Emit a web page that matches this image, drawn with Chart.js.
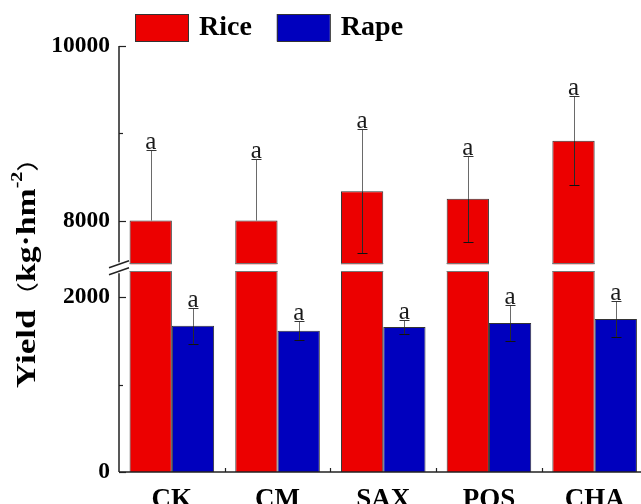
<!DOCTYPE html>
<html>
<head>
<meta charset="utf-8">
<script src="https://cdn.jsdelivr.net/npm/chart.js@4.4.1/dist/chart.umd.min.js"></script>
<style>
  html, body { margin: 0; padding: 0; background: #ffffff; overflow: hidden; }
  #wrap { position: relative; width: 650px; height: 504px; }
</style>
</head>
<body>
<div id="wrap"><canvas id="chart" width="650" height="504"></canvas></div>
<script>
// Treatments and yields (kg·hm-2), mean ± SD
const treatments   = ['CK', 'CM', 'SAX', 'POS', 'CHA'];
const riceYield    = [8000, 8000, 8335, 8250, 8915];
const riceSD       = [810, 700, 712, 494, 512];
const rapeYield    = [1675, 1617, 1661, 1706, 1754];
const rapeSD       = [206, 110, 76, 211, 205];
const riceLetters  = ['a', 'a', 'a', 'a', 'a'];
const rapeLetters  = ['a', 'a', 'a', 'a', 'a'];

// Broken y axis: 0–2300 below the break, 7500–10000 above it
const yTickValues  = [0, 1000, 2000, 8000, 9000, 10000];
const yTickLabels  = ['0', '', '2000', '8000', '', '10000'];
const BREAK_LOW  = 2300;
const BREAK_HIGH = 7500;
const BREAK_GAP  = 7;

const SERIF = '"Liberation Serif", "Times New Roman", serif';
const RED  = '#EC0000';
const BLUE = '#0000BE';

class BrokenLinearScale extends Chart.LinearScale {
  buildTicks() {
    super.buildTicks();
    return yTickValues.map(v => ({ value: v }));
  }
  _segments() {
    const h = this.bottom - this.top;
    const lowSpan = BREAK_LOW - this.min;
    const highSpan = this.max - BREAK_HIGH;
    const usable = h - BREAK_GAP;
    const lowH = usable * lowSpan / (lowSpan + highSpan);
    return { lowH, highH: usable - lowH };
  }
  getPixelForValue(v) {
    const { lowH, highH } = this._segments();
    if (v <= BREAK_LOW) return this.bottom - (v - this.min) / (BREAK_LOW - this.min) * lowH;
    if (v >= BREAK_HIGH) return this.top + (this.max - v) / (this.max - BREAK_HIGH) * highH;
    const yLow = this.bottom - lowH, yHigh = this.top + highH;
    return yLow + (v - BREAK_LOW) / (BREAK_HIGH - BREAK_LOW) * (yHigh - yLow);
  }
  getValueForPixel(p) {
    const { lowH, highH } = this._segments();
    const yLow = this.bottom - lowH, yHigh = this.top + highH;
    if (p >= yLow) return this.min + (this.bottom - p) / lowH * (BREAK_LOW - this.min);
    if (p <= yHigh) return this.max - (p - this.top) / highH * (this.max - BREAK_HIGH);
    return BREAK_LOW + (yLow - p) / (yLow - yHigh) * (BREAK_HIGH - BREAK_LOW);
  }
}
BrokenLinearScale.id = 'brokenLinear';
BrokenLinearScale.defaults = Chart.LinearScale.defaults;
Chart.register(BrokenLinearScale);

const sdByDataset = [riceSD, rapeSD];
const lettersByDataset = [riceLetters, rapeLetters];

const decorations = {
  id: 'decorations',
  afterDatasetsDraw(chart) {
    const ctx = chart.ctx;
    const y = chart.scales.y;
    const x = chart.scales.x;
    const area = chart.chartArea;
    const bandTop = y.getPixelForValue(BREAK_HIGH);
    const bandBot = y.getPixelForValue(BREAK_LOW);

    // error bars
    chart.data.datasets.forEach((ds, di) => {
      const meta = chart.getDatasetMeta(di);
      meta.data.forEach((el, i) => {
        const mean = ds.data[i], sd = sdByDataset[di][i];
        const cx = Math.round(el.x) + 0.5;
        const pMean = y.getPixelForValue(mean);
        const pTop = Math.round(y.getPixelForValue(mean + sd)) + 0.5;
        ctx.save();
        ctx.lineWidth = 1;
        ctx.strokeStyle = '#6a6a6a';
        ctx.beginPath(); ctx.moveTo(cx, pMean); ctx.lineTo(cx, pTop); ctx.stroke();
        ctx.strokeStyle = '#333';
        ctx.beginPath(); ctx.moveTo(cx - 5, pTop); ctx.lineTo(cx + 5, pTop); ctx.stroke();
        const low = mean - sd;
        const visibleLow = mean > BREAK_HIGH ? low >= BREAK_HIGH : true;
        if (visibleLow) {
          const pLow = Math.round(y.getPixelForValue(low)) + 0.5;
          ctx.strokeStyle = '#2a2a2a';
          ctx.beginPath(); ctx.moveTo(cx, pMean); ctx.lineTo(cx, pLow); ctx.stroke();
          ctx.strokeStyle = '#111';
          ctx.beginPath(); ctx.moveTo(cx - 5, pLow); ctx.lineTo(cx + 5, pLow); ctx.stroke();
        }
        ctx.restore();
      });
    });

    // white band across the axis break
    ctx.save();
    ctx.fillStyle = '#ffffff';
    ctx.fillRect(area.left + 1, bandTop, area.right - area.left, bandBot - bandTop);
    chart.getDatasetMeta(0).data.forEach(el => {
      ctx.strokeStyle = '#777';
      ctx.lineWidth = 1;
      const l = el.x - el.width / 2, r = el.x + el.width / 2;
      ctx.beginPath();
      ctx.moveTo(l, Math.round(bandTop) - 0.5); ctx.lineTo(r, Math.round(bandTop) - 0.5);
      ctx.moveTo(l, Math.round(bandBot) + 0.5); ctx.lineTo(r, Math.round(bandBot) + 0.5);
      ctx.stroke();
    });
    ctx.restore();

    // axes
    ctx.save();
    ctx.strokeStyle = '#222';
    ctx.lineWidth = 1.5;
    const ax = area.left;
    ctx.beginPath();
    ctx.moveTo(ax, area.top); ctx.lineTo(ax, bandTop - 2);
    ctx.moveTo(ax, bandBot + 2); ctx.lineTo(ax, area.bottom);
    ctx.moveTo(ax, area.bottom); ctx.lineTo(chart.width, area.bottom);
    ctx.stroke();
    // break marks
    ctx.lineWidth = 1.4;
    ctx.beginPath();
    ctx.moveTo(ax - 10, bandTop + 3.5); ctx.lineTo(ax + 10, bandTop - 3.5);
    ctx.moveTo(ax - 10, bandBot + 3.5); ctx.lineTo(ax + 10, bandBot - 3.5);
    ctx.stroke();
    // inward ticks on y
    ctx.lineWidth = 1.2;
    yTickValues.forEach((v, i) => {
      const py = Math.round(y.getPixelForValue(v)) + 0.5;
      const len = yTickLabels[i] === '' ? 4 : 7;
      ctx.beginPath(); ctx.moveTo(ax, py); ctx.lineTo(ax + len, py); ctx.stroke();
    });
    // inward ticks on x between categories
    for (let i = 1; i < treatments.length; i++) {
      const px = Math.round((x.getPixelForValue(i - 1) + x.getPixelForValue(i)) / 2) + 0.5;
      ctx.beginPath(); ctx.moveTo(px, area.bottom); ctx.lineTo(px, area.bottom - 4); ctx.stroke();
    }
    ctx.restore();

    // significance letters
    ctx.save();
    ctx.font = '25px ' + SERIF;
    ctx.fillStyle = '#1a1a1a';
    ctx.textAlign = 'center';
    ctx.textBaseline = 'alphabetic';
    chart.data.datasets.forEach((ds, di) => {
      chart.getDatasetMeta(di).data.forEach((el, i) => {
        const pTop = y.getPixelForValue(ds.data[i] + sdByDataset[di][i]);
        ctx.fillText(lettersByDataset[di][i], el.x, pTop - 1);
      });
    });
    ctx.restore();
  },
  afterDraw(chart) {
    const ctx = chart.ctx;
    // legend
    ctx.save();
    let lx = 135;
    ctx.font = 'bold 28px ' + SERIF;
    ctx.textBaseline = 'alphabetic';
    chart.data.datasets.forEach(ds => {
      ctx.fillStyle = ds.backgroundColor;
      ctx.fillRect(lx, 14, 53, 27);
      ctx.strokeStyle = '#333';
      ctx.lineWidth = 1;
      ctx.strokeRect(lx + 0.5, 14.5, 53, 27);
      ctx.fillStyle = '#000';
      ctx.fillText(ds.label, lx + 64, 35);
      lx += 64 + ctx.measureText(ds.label).width + 25;
    });
    ctx.restore();

    // y-axis title
    ctx.save();
    ctx.translate(35, 388);
    ctx.rotate(-Math.PI / 2);
    ctx.scale(1.25, 1);
    ctx.fillStyle = '#000';
    ctx.textBaseline = 'alphabetic';
    let tx = 0;
    const part = (txt, font, dy) => {
      ctx.font = font;
      ctx.fillText(txt, tx, dy || 0);
      tx += ctx.measureText(txt).width;
    };
    part('Yield', 'bold 28px ' + SERIF);
    part('（', '22px "Noto Sans CJK SC"');
    part('kg·hm', 'bold 27px ' + SERIF);
    part('-2', 'bold 16px ' + SERIF, -13);
    part('）', '22px "Noto Sans CJK SC"');
    ctx.restore();
  }
};

new Chart(document.getElementById('chart'), {
  type: 'bar',
  data: {
    labels: treatments,
    datasets: [
      { label: 'Rice', data: riceYield, backgroundColor: RED, borderColor: '#333', borderWidth: 1 },
      { label: 'Rape', data: rapeYield, backgroundColor: BLUE, borderColor: '#333', borderWidth: 1 }
    ]
  },
  options: {
    responsive: false,
    animation: false,
    devicePixelRatio: 1,
    categoryPercentage: 0.8,
    barPercentage: 1.0,
    layout: { padding: { top: 46, right: 2.5, left: 0, bottom: 0 } },
    plugins: { legend: { display: false }, tooltip: { enabled: false } },
    scales: {
      x: {
        type: 'category',
        offset: true,
        grid: { display: false, drawTicks: false },
        border: { display: false },
        ticks: { color: '#000', font: { family: SERIF, size: 27, weight: 'bold' }, padding: 12 },
        afterFit: s => { s.height = 32; }
      },
      y: {
        type: 'brokenLinear',
        min: 0,
        max: 10000,
        grid: { display: false, drawTicks: false },
        border: { display: false },
        ticks: {
          autoSkip: false,
          padding: 9,
          color: '#000',
          font: { family: SERIF, size: 23.5, weight: 'bold' },
          callback: v => { const k = yTickValues.indexOf(v); return k >= 0 ? yTickLabels[k] : ''; }
        },
        afterFit: s => { s.width = 119; }
      }
    }
  },
  plugins: [decorations]
});
</script>
</body>
</html>
